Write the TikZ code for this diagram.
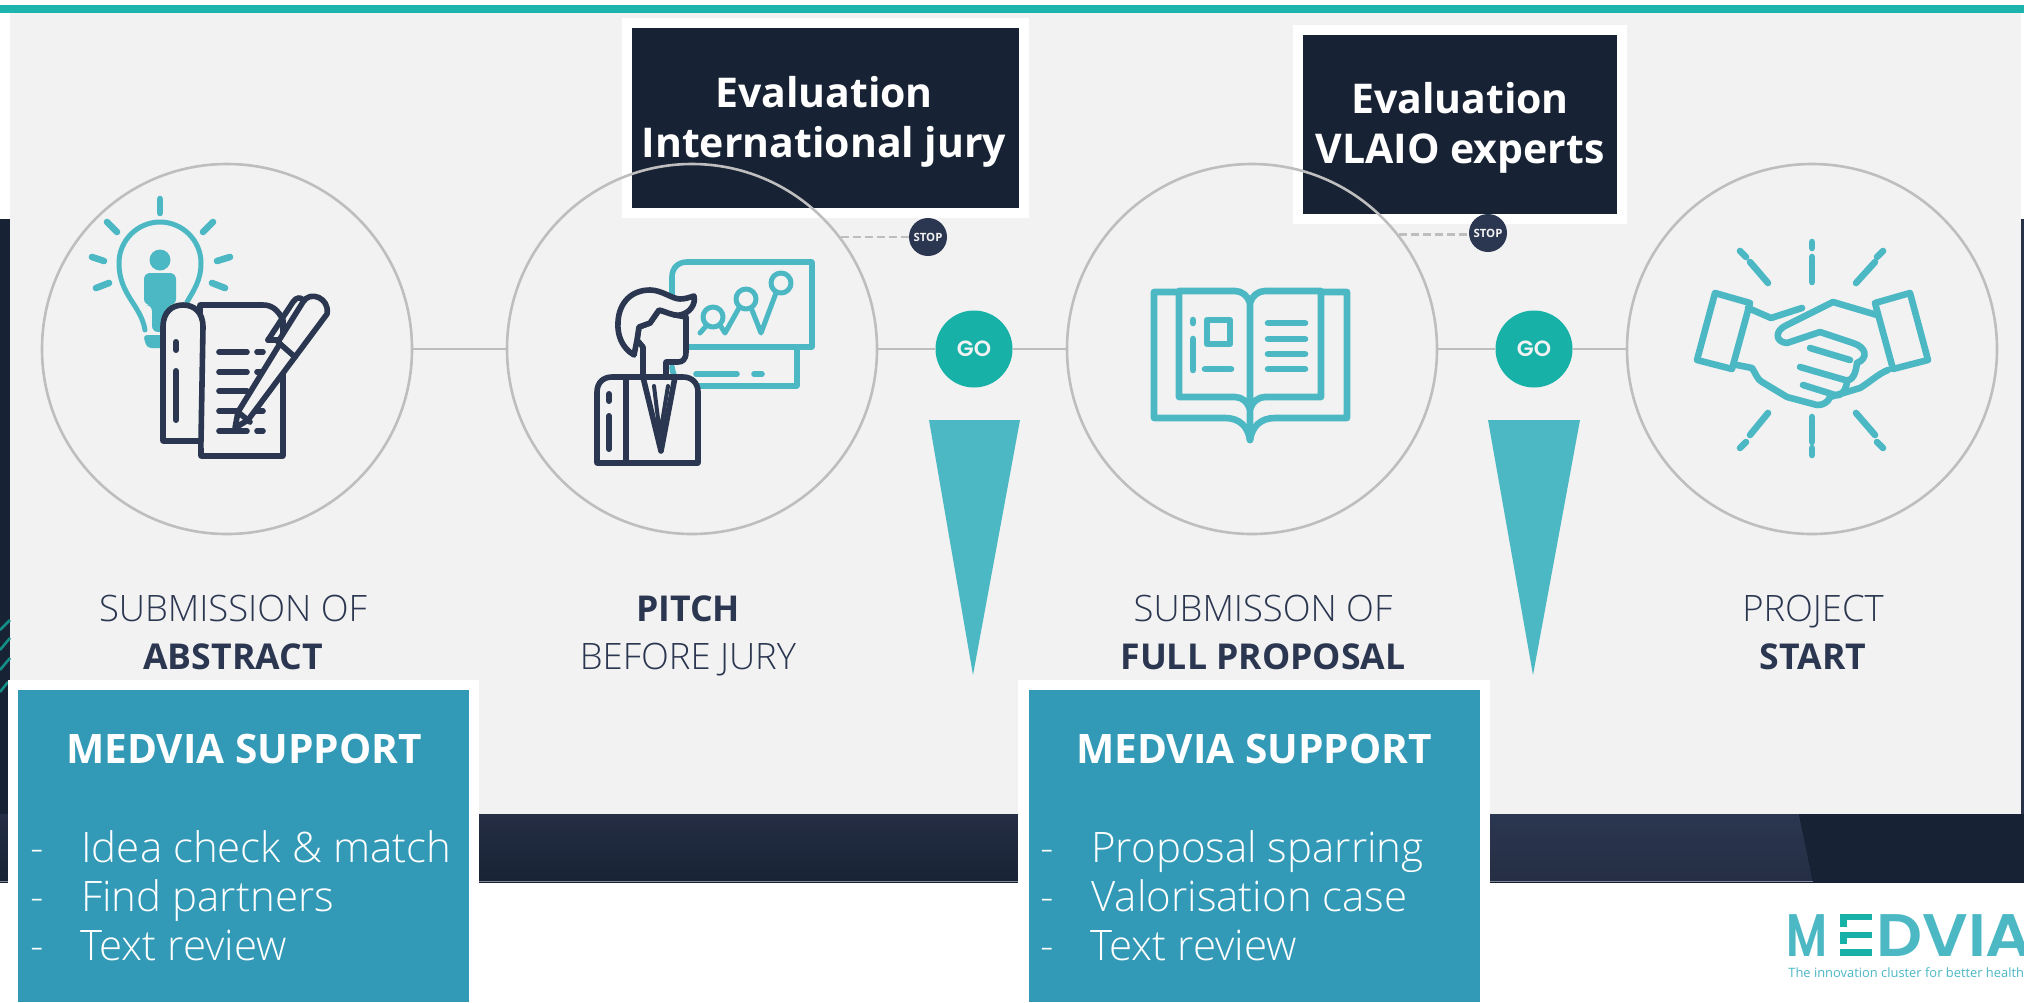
\documentclass[tikz,border=0pt]{standalone}
\usepackage{fontspec}
\setmainfont{Open Sans}
\newfontfamily\lightfont{Open Sans Light}
\newfontfamily\logofont{Poppins SemiBold}
\usetikzlibrary{positioning}
\definecolor{navy}{HTML}{2B3650}
\definecolor{boxnavy}{HTML}{172234}
\definecolor{aqua}{HTML}{4BB8C4}
\definecolor{mint}{HTML}{17B1A7}
\definecolor{barmint}{HTML}{1EB4AE}
\definecolor{panel}{HTML}{F2F2F2}
\definecolor{ringgray}{HTML}{BEBEBE}
\definecolor{support}{HTML}{3299B6}
\newcommand{\hl}[1]{{\normalfont\bfseries\fontsize{17.8}{24}\selectfont #1}}

\begin{document}
\begin{tikzpicture} [
    x=0.5pt, y=-0.5pt,
    ]
% -------------------------------------------------
\tikzset{
  ring/.style={draw=ringgray, line width=1.3pt, circle, on grid, minimum size=185pt, inner sep=0pt},
  link/.style={draw=ringgray, line width=1.2pt},
  dots/.style={draw=ringgray, line width=1.3pt, dash pattern=on 4pt off 2pt},
  go/.style={circle, fill=mint, minimum size=38.5pt, inner sep=0pt, text=panel, font=\logofont\fontsize{11}{11}\selectfont},
  halt/.style={circle, fill=navy, minimum size=19pt, inner sep=0pt, text=panel, font=\bfseries\fontsize{5.7}{6}\selectfont},
  evalbox/.style={fill=boxnavy, draw=white, line width=5pt},
  evaltext/.style={text=white, font=\bfseries\fontsize{20.5}{25}\selectfont, align=center, inner sep=0pt, anchor=base},
  lbl/.style={text=navy, align=center, font=\lightfont\fontsize{18.2}{24}\selectfont, inner sep=0pt, anchor=base},
  head/.style={text=white, font=\bfseries\fontsize{20.3}{20}\selectfont, inner sep=0pt, anchor=base},
  item/.style={text=white, font=\lightfont\fontsize{21}{20}\selectfont, inner sep=0pt, anchor=base west},
  teal/.style={draw=aqua, line width=3.3pt, line cap=round, line join=round},
  board/.style={teal, line width=2.8pt},
  ink/.style={draw=navy, line width=2.8pt, line cap=round, line join=round},
  wedge/.style={fill=aqua},
  logotext/.style={inner sep=0pt, anchor=base west, text=aqua, font=\logofont\fontsize{30}{30}\selectfont}
}

    \useasboundingbox (0,0) rectangle (2024,1002);
    \fill[white] (0,0) rectangle (2024,1002);

    \fill[boxnavy] (0,219) rectangle (10,882);                      % left strip
    \fill[navy!90!black] (2021,219) rectangle (2024,882);           % right strip
    \fill[top color=navy!85!black, bottom color=boxnavy!95!navy] (0,814) rectangle (2024,882); % bottom band
    \fill[top color=navy, bottom color=navy!85!black] (1480,814) -- (1799,814) -- (1813,882) -- (1480,882) -- cycle; % bottom band: lighter part
    \fill[boxnavy] (1799,814) -- (2024,814) -- (2024,882) -- (1813,882) -- cycle; % bottom band: dark part
    \draw[navy!60!white, line width=0.5pt] (0,881) -- (1813,881);    % bottom band: edge
    \fill[panel] (10,13) rectangle (2021,814);                      % panel
    \fill[barmint] (0,5) rectangle (2024,13);                       % top bar

    \draw[mint!80!black, line width=1.3pt] (0,630) -- (10,620);     % left strip: ticks
    \draw[mint!80!black, line width=1.3pt] (0,650) -- (10,638);
    \draw[mint!80!black, line width=1.3pt] (0,670) -- (10,658);
    \draw[mint!80!black, line width=1.3pt] (0,692) -- (8,682);

    \node [evalbox, minimum width=198.5pt, minimum height=95pt] (evala) at (825,118) {};
    \node [evalbox, minimum width=162pt, minimum height=94.5pt] (evalb) at (1459.5,124.5) {};
    \node [evaltext] (evalat) at (824,157) {Evaluation\\International jury};
    \node [evaltext] (evalbt) at (1460,163) {Evaluation\\VLAIO experts};

    \node [ring] (abs) at (227,349) {};
    \node [ring, right=232.5pt of abs] (pit) {};
    \node [ring, right=280pt of pit] (prp) {};
    \node [ring, right=280pt of prp] (sta) {};

    \node [go] (goa) at (974,349) {GO};
    \node [go] (gob) at (1534,349) {GO};
    \node [halt] (stpa) at (928,237) {STOP};
    \node [halt] (stpb) at (1488,233) {STOP};

    \path [link] (abs) -- (pit);
    \path [link] (pit) -- (goa);
    \path [link] (goa) -- (prp);
    \path [link] (prp) -- (gob);
    \path [link] (gob) -- (sta);
    \path [dots] (pit.37) -- (pit.37 -| stpa.west);
    \path [dots] (prp.38) -- (prp.38 -| stpb.west);

    \fill[wedge] (929,420) -- (1020,420) -- (973,675) -- cycle;     % wedge 1
    \fill[wedge] (1488,420) -- (1580,420) -- (1533,675) -- cycle;   % wedge 2

    \node [lbl] (absl) at (233,669) {SUBMISSION OF\\\hl{ABSTRACT}};
    \node [lbl] (pitl) at (688,669) {\hl{PITCH}\\BEFORE JURY};
    \node [lbl] (prpl) at (1263,669) {SUBMISSON OF\\\hl{FULL PROPOSAL}};
    \node [lbl] (stal) at (1813,669) {PROJECT\\\hl{START}};

    \fill[white] (8,680) rectangle (479,1002);                      % support 1: frame
    \fill[support] (18,690) rectangle (469,1002);                   % support 1
    \fill[white] (1018,680) rectangle (1490,1002);                  % support 2: frame
    \fill[support] (1029,690) rectangle (1480,1002);                % support 2

    \node [head] (supa) at (244,763) {MEDVIA SUPPORT};
    \node [item] (supa0) at (30,862) {-};
    \node [item] (supa1) at (81,862) {Idea check \& match};
    \node [item] (supa2) at (30,911) {-};
    \node [item] (supa3) at (81,911) {Find partners};
    \node [item] (supa4) at (30,960) {-};
    \node [item] (supa5) at (80,960) {Text review};

    \node [head] (supb) at (1254,763) {MEDVIA SUPPORT};
    \node [item] (supb0) at (1040,862) {-};
    \node [item] (supb1) at (1091,862) {Proposal sparring};
    \node [item] (supb2) at (1040,911) {-};
    \node [item] (supb3) at (1091,911) {Valorisation case};
    \node [item] (supb4) at (1040,960) {-};
    \node [item] (supb5) at (1090,960) {Text review};

    % bulb and notes
    \draw[teal] (160,199) -- (160,213);                             % ray top
    \draw[teal] (107,222) -- (117,232);                             % ray upper left
    \draw[teal] (213,222) -- (203,232);                             % ray upper right
    \draw[teal] (92,257) -- (104,261);                              % ray left
    \draw[teal] (96,288) -- (109,283);                              % ray lower left
    \draw[teal] (230,257) -- (217,261);                             % ray right
    \draw[teal] (212,283) -- (225,288);                             % ray lower right
    \draw[teal, line width=2.5pt] (145,330) .. controls (141,305) and (119,295) .. (119,263) .. controls (119,240) and (138,222) .. (160,222) .. controls (182,222) and (201,240) .. (201,263) .. controls (201,280) and (194,290) .. (187,302); % bulb
    \fill[aqua] (160,260) circle [radius=10.5];                     % person: head
    \fill[aqua, rounded corners=3pt] (144,273) -- (176,273) -- (176,305) -- (170,305) -- (170,332) -- (152,332) -- (152,305) -- (144,305) -- cycle; % person: body
    \fill[aqua, rounded corners=2pt] (143,335) -- (170,335) -- (170,348) -- (147,348) -- cycle; % bulb: base
    \draw[ink, fill=panel] (201,456) -- (200,305) -- (263,305) .. controls (272,305) and (278,310) .. (283,320) -- (283,456) -- cycle; % page
    \draw[ink, fill=panel] (200,441) -- (163,441) -- (163,327) .. controls (163,312) and (172,305) .. (183,305) .. controls (194,305) and (203,312) .. (203,327) -- (201,441); % fold
    \draw[ink, line width=3pt] (176,342) -- (176,350);              % fold: dot
    \draw[ink, line width=3pt] (176,371) -- (176,420);              % fold: line
    \draw[ink] (219,352) -- (247,352);                              % page: lines
    \draw[ink] (219,372) -- (247,372);
    \draw[ink] (219,391) -- (247,391);
    \draw[ink] (219,411) -- (263,411);
    \draw[ink] (219,431) -- (247,431);
    \draw[ink] (257,352) -- (263,352);
    \draw[ink] (257,372) -- (263,372);
    \draw[ink] (257,431) -- (263,431);
    \draw[ink, fill=panel] (235,428) -- (238,412) -- (281,342) -- (295,357) -- (248,420) -- cycle; % pen: lower
    \draw[ink, fill=panel] (278,342) -- (303,302) .. controls (310,290) and (330,298) .. (327,314) -- (295,357) -- cycle; % pen: upper
    \draw[ink] (268,340) -- (277,340);                              % pen: clip
    \draw[ink] (268,340) -- (293,302) .. controls (296,297) and (301,297) .. (303,300);
    \draw[ink] (238,412) -- (250,422);                              % pen: nib

    % presenter and chart
    \draw[board] (672,300) -- (672,277) .. controls (672,268) and (678,262) .. (687,262) -- (812,262) -- (812,347) -- (680,347); % board
    \draw[board] (797,347) -- (797,386) -- (692,386) .. controls (680,386) and (673,378) .. (672,367); % board: lower part
    \draw[board] (696,374) -- (737,374);                            % board: line
    \draw[board] (754,374) -- (762,374);                            % board: dash
    \draw[teal, line width=2.5pt] (700,333) -- (707,325);           % chart
    \draw[teal, line width=2.5pt] (720,325) -- (725,333) -- (739,308);
    \draw[teal, line width=2.5pt] (752,310) -- (761,333) -- (776,293);
    \draw[teal, line width=2.5pt] (713,317) circle [radius=10];
    \draw[teal, line width=2.5pt] (746,299) circle [radius=10];
    \draw[teal, line width=2.5pt] (781,283) circle [radius=10];
    \draw[ink, fill=panel] (643,377) -- (643,347) -- (637,340) -- (639,327) -- (650,323) -- (659,310) -- (675,315) -- (686,317) -- (686,352) .. controls (686,360) and (682,362) .. (678,362) -- (666,362) -- (666,377) -- cycle; % face
    \draw[ink, fill=panel] (634,355) .. controls (622,348) and (617,335) .. (618,322) .. controls (619,302) and (632,290) .. (650,290) .. controls (662,290) and (672,299) .. (680,299) .. controls (686,299) and (690,297) .. (694,296) .. controls (696,304) and (690,313) .. (680,315) .. controls (672,316) and (665,311) .. (659,310) -- (650,323) -- (639,327) -- (637,340) -- cycle; % hair
    \draw[ink, fill=panel] (597,463) -- (597,392) .. controls (597,383) and (603,377) .. (612,377) -- (683,377) .. controls (692,377) and (698,383) .. (698,392) -- (698,463) -- cycle; % jacket
    \draw[ink] (626,380) -- (626,463);                              % jacket: sleeve
    \draw[ink, line width=3pt] (609,394) -- (609,401);              % sleeve: dot
    \draw[ink, line width=3pt] (609,416) -- (609,449);              % sleeve: line
    \draw[ink] (643,377) -- (661,451) -- (675,377);                 % collar
    \draw[ink, line width=2pt] (654,386) -- (660,435) -- (668,386); % tie

    % open book
    \draw[teal, line cap=butt] (1177,292) -- (1154,292) -- (1154,418) -- (1225,418) .. controls (1240,418) and (1248,427) .. (1250,440) .. controls (1252,427) and (1260,418) .. (1275,418) -- (1347,418) -- (1347,292) -- (1323,292); % cover
    \draw[teal] (1250,440) -- (1250,303) .. controls (1248,296) and (1242,291) .. (1235,291) -- (1179,291) -- (1179,397) -- (1235,397) .. controls (1242,397) and (1248,402) .. (1250,410) .. controls (1252,402) and (1258,397) .. (1265,397) -- (1321,397) -- (1321,291) -- (1265,291) .. controls (1258,291) and (1252,296) .. (1250,303); % pages
    \draw[teal] (1193,320) -- (1193,323);                           % page: dot
    \draw[teal] (1193,339) -- (1193,370);                           % page: line
    \draw[teal, line cap=butt] (1207,320) rectangle (1230,344);     % page: square
    \draw[teal] (1205,369) -- (1231,369);                           % page: short line
    \draw[teal] (1268,323) -- (1305,323);                           % page: text lines
    \draw[teal] (1268,339) -- (1305,339);
    \draw[teal] (1268,354) -- (1305,354);
    \draw[teal] (1268,369) -- (1305,369);

    % handshake
    \draw[teal] (1812,242) -- (1812,248);                           % rays: top
    \draw[teal] (1812,257) -- (1812,282);
    \draw[teal] (1812,417) -- (1812,442);                           % rays: bottom
    \draw[teal] (1812,448) -- (1812,455);
    \draw[teal] (1740,251) -- (1746,257);                           % rays: upper left
    \draw[teal] (1750,262) -- (1768,283);
    \draw[teal] (1883,251) -- (1877,257);                           % rays: upper right
    \draw[teal] (1875,262) -- (1856,283);
    \draw[teal] (1768,413) -- (1750,435);                           % rays: lower left
    \draw[teal] (1746,442) -- (1740,448);
    \draw[teal] (1856,413) -- (1875,435);                           % rays: lower right
    \draw[teal] (1877,442) -- (1883,448);
    \draw[teal] (1715,293) -- (1750,303) -- (1732,369) -- (1697,360) -- cycle; % cuff left
    \draw[teal] (1910,293) -- (1875,303) -- (1893,369) -- (1928,360) -- cycle; % cuff right
    \draw[teal] (1748,308) -- (1771,318) -- (1802,308);             % hand left: top
    \draw[teal] (1877,315) -- (1833,302) -- (1785,326) .. controls (1775,331) and (1775,342) .. (1787,343) -- (1820,332) -- (1853,343) .. controls (1866,347) and (1869,358) .. (1857,363); % hand right: thumb
    \draw[teal] (1810,348) -- (1850,360);                           % fingers
    \draw[teal] (1800,367) -- (1845,380) .. controls (1853,382) and (1856,372) .. (1857,363);
    \draw[teal] (1803,385) -- (1835,395) .. controls (1841,397) and (1846,390) .. (1847,382);
    \draw[teal] (1737,365) -- (1752,368) .. controls (1756,374) and (1757,379) .. (1762,382) -- (1787,397) -- (1817,405) .. controls (1824,405) and (1828,402) .. (1830,397); % hand left: bottom
    \draw[teal] (1830,397) -- (1860,388) .. controls (1870,382) and (1878,374) .. (1888,370); % hand right: bottom

    % logo
    \node [logotext] (logm) at (1786,956) {\scalebox{0.76}[1]{M}};
    \node [logotext] (logd) at (1876,956) {\scalebox{1.07}[1]{DVIA}};
    \fill[mint] (1840,914) rectangle (1872,920);                    % logo: E top
    \fill[mint] (1840,920) rectangle (1847,927);
    \fill[mint] (1840,932) rectangle (1872,938);                    % logo: E middle
    \fill[mint] (1840,938) rectangle (1847,944);
    \fill[mint] (1840,949) rectangle (1872,956);                    % logo: E bottom
    \node [inner sep=0pt, anchor=base west, text=aqua, font=\fontsize{6.45}{8}\selectfont] (logt) at (1788,977) {The innovation cluster for better health};

\end{tikzpicture}
\end{document}
